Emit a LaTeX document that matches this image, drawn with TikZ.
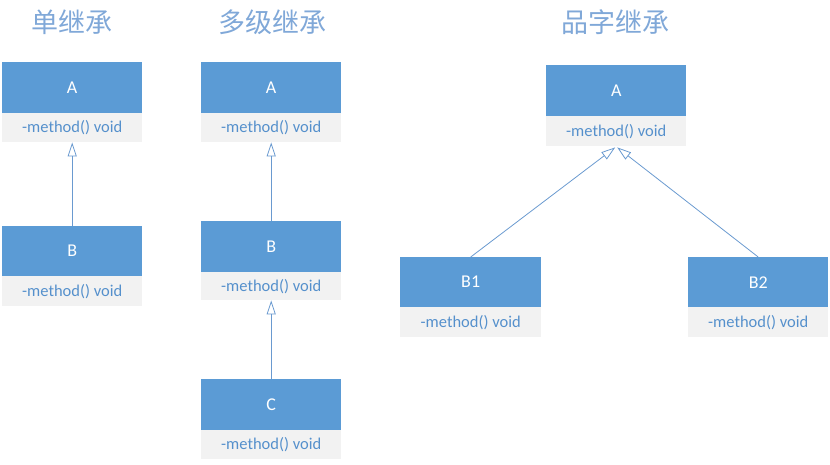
\documentclass[tikz,border=0pt]{standalone}
\usepackage{fontspec}
\setmainfont{Carlito}
\newfontfamily\cjk{Noto Sans CJK SC}
\usetikzlibrary{arrows.meta}
\definecolor{hdr}{HTML}{5B9BD5}
\definecolor{mrow}{HTML}{F2F2F2}
\definecolor{mtext}{HTML}{5590CC}
\definecolor{ttl}{HTML}{80A8D8}
\definecolor{lnc}{HTML}{6A9AD0}
\tikzset{
  hdrbox/.style={rectangle, fill=hdr, text=white, inner sep=0pt, anchor=north west,
    minimum width=140pt, minimum height=51pt, font=\fontsize{18}{20}\selectfont},
  methbox/.style={rectangle, fill=mrow, text=mtext, inner sep=0pt, anchor=north west,
    minimum width=140pt, minimum height=29pt, font=\fontsize{16.5}{18}\selectfont},
  ttlnode/.style={text=ttl, inner sep=0pt, font=\cjk\fontsize{27}{30}\selectfont},
  inherit/.style={draw=lnc, line width=0.8pt, -{Triangle[open, length=14pt, width=9pt]}}
}
\begin{document}
\begin{tikzpicture}[x=1pt,y=-1pt]
\useasboundingbox (0,0) rectangle (830,464);
% titles
\node[ttlnode] (t1) at (72,22) {单继承};
\node[ttlnode] (t2) at (272,22) {多级继承};
\node[ttlnode] (t3) at (615,22) {品字继承};
% single
\node[hdrbox] (sA) at (2,62) {A};
\node[methbox] (sAm) at (2,113) {-method() void};
\node[hdrbox, minimum height=50pt] (sB) at (2,226) {B};
\node[methbox, minimum height=30pt] (sBm) at (2,276) {-method() void};
\draw[inherit] (sB.north) -- (sAm.south);
% multi-level
\node[hdrbox] (mA) at (201,62) {A};
\node[methbox] (mAm) at (201,113) {-method() void};
\node[hdrbox] (mB) at (201,221) {B};
\node[methbox, minimum height=28pt] (mBm) at (201,272) {-method() void};
\node[hdrbox] (mC) at (201,379) {C};
\node[methbox] (mCm) at (201,430) {-method() void};
\draw[inherit] (mB.north) -- (mAm.south);
\draw[inherit] (mC.north) -- (mBm.south);
% pinzi
\node[hdrbox] (pA) at (546,65) {A};
\node[methbox, minimum height=30pt] (pAm) at (546,116) {-method() void};
\node[hdrbox, minimum height=50pt, minimum width=141pt] (pB1) at (400,257) {B1};
\node[methbox, minimum height=30pt, minimum width=141pt] (pB1m) at (400,307) {-method() void};
\node[hdrbox, minimum height=50pt] (pB2) at (688,257) {B2};
\node[methbox, minimum height=30pt] (pB2m) at (688,307) {-method() void};
\draw[inherit] (pB1.north) -- ([xshift=-1pt,yshift=-1pt]pAm.south);
\draw[inherit] (pB2.north) -- ([xshift=1pt,yshift=-1pt]pAm.south);
\end{tikzpicture}
\end{document}
